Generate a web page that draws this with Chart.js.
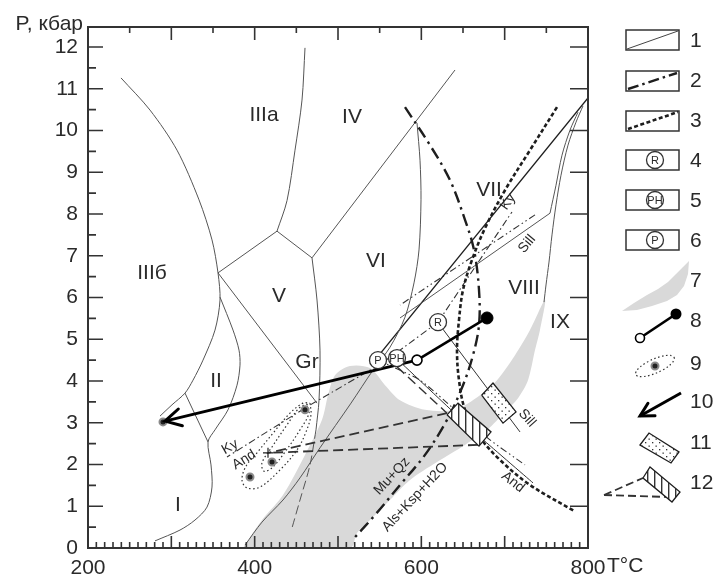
<!DOCTYPE html>
<html>
<head>
<meta charset="utf-8">
<script src="https://cdn.jsdelivr.net/npm/chart.js@4.4.1/dist/chart.umd.min.js"></script>
<style>
body { margin: 0; background: #fff; }
#wrap { width: 716px; height: 576px; }
</style>
</head>
<body>
<div id="wrap"><canvas id="c" width="716" height="576"></canvas></div>
<script>
// all points are [T °C, P kbar]
const xTicks = [200, 400, 600, 800];
const yTicks = [0, 1, 2, 3, 4, 5, 6, 7, 8, 9, 10, 11, 12];

const arcIII = [[239.6,11.26],[274.4,10.49],[306.8,9.53],[333.2,8.34],[348.8,7.38],[356,6.59],[358.4,5.94],[352.4,5.22],[338,4.50],[326,4.02],[316.4,3.71],[300.8,3.43],[286.4,3.16]];
const curveII = [[358.4,6.01],[374,5.22],[381.2,4.74],[382.4,4.38],[378.8,3.90],[368,3.31],[352.4,2.83],[344,2.54],[347.6,1.99],[348.8,1.46],[342.8,0.98],[328.4,0.67],[310.4,0.43],[280.4,0.17]];
const lineI = [[316.4,3.71],[344,2.54]];
const boundIV = [[460.4,11.98],[456.8,10.73],[448.4,9.53],[438.8,8.32],[426.8,7.59]];
const boundV1 = [[426.8,7.59],[356,6.59]];
const boundV2 = [[426.8,7.59],[468.8,6.95]];
const boundGr = [[356,6.59],[474.8,3.47]];
const boundIVVI = [[468.8,6.95],[640.4,11.45]];
const boundVVI = [[468.8,6.95],[474.8,5.94],[478.4,4.74],[477.2,3.54],[473.6,2.83]];
const boundVVIlow = [[473.6,2.83],[466.4,1.99],[454.4,1.15],[444.8,0.48]];
const boundVII = [[594.8,10.18],[598.4,9.29],[599.6,8.34],[597.2,7.14],[591.2,6.35],[580.4,5.53],[562.4,4.81],[542,4.26],[515.6,3.47],[478.4,2.40],[454.4,1.68],[434,1.15],[408.8,0.62],[388.4,0.07]];
const boundVIII = [[788,10.44],[778.4,10.01],[768.8,9.41],[761.6,8.69],[754.4,8.02]];
const boundIX = [[794,10.59],[785.6,10.20],[776,9.65],[767.6,8.93],[761.6,8.22],[756.8,7.50],[753.2,6.85],[749.6,6.30],[747.2,5.89]];
const sillLine = [[754.4,8.02],[574.4,5.51]];

const kySill = [[550.4,4.65],[800,10.78]];
const kySillR = [[620,5.41],[708.8,8.05]];
const kyAnd = [[620,5.41],[574.4,4.74],[546.8,4.36],[462.8,3.38],[366.8,2.18]];
const sillDots = [[736.4,7.98],[574.4,5.82]];
const andSillP = [[548,4.50],[598.4,4.02],[640.4,3.31],[682.4,2.59],[724.4,1.99]];
const andSillPH = [[574.4,4.46],[670.4,2.66],[734,1.56]];
const andSillR = [[624.8,5.27],[718.4,2.78]];
const dashPH = [[570.8,4.34],[630.8,3.23]];

const muCurve = [[580.4,10.56],[610.4,9.65],[634.4,8.81],[652.4,7.86],[663.2,7.14],[669.2,6.18],[669.2,5.34],[662,4.62],[650,3.90],[630.8,3.07],[604.4,2.23],[574.4,1.51],[544.4,0.79],[520.4,0.26]];
const dotCurve = [[762.8,10.56],[730.4,9.53],[700.4,8.57],[676.4,7.66],[660.8,6.90],[650,6.18],[645.2,5.46],[642.8,4.74],[645.2,4.02],[652.4,3.31],[668,2.71],[694.4,2.11],[730.4,1.51],[783.2,0.89]];

const greyZone = [[386,0],[408.8,0.67],[434,1.27],[460.4,2.23],[480.8,3.07],[488,3.66],[496.4,4.14],[514.4,4.36],[538.4,4.31],[556.4,3.90],[574.4,3.54],[604.4,3.31],[640.4,3.31],[670.4,3.66],[690.8,4.02],[712.4,4.62],[730.4,5.22],[748.4,5.94],[742.4,5.22],[736.4,4.74],[728,4.02],[716,3.59],[700.4,3.26],[678.8,2.83],[652.4,2.47],[618.8,2.06],[586.4,1.63],[562.4,1.15],[538.4,0.67],[522.8,0.36],[514.4,0],[386,0]];

const sillBox = [[672.4,3.66],[686,3.95],[713.6,3.26],[698,2.99],[672.4,3.66]];
const hatchBox = [[630.8,3.19],[644,3.47],[683.6,2.78],[669.2,2.44],[630.8,3.19]];
const dashUp = [[630.8,3.23],[416,2.28]];
const dashLow = [[668,2.47],[416,2.28]];

const ellipseA = [[466.4,3.47],[467.6,3.19],[461.6,2.78],[450.8,2.35],[430.4,1.87],[406.4,1.46],[390.8,1.44],[384.8,1.63],[389.6,1.96],[402.8,2.28],[422,2.75],[442.4,3.23],[458,3.47],[466.4,3.47]];
const ellipseB = [[462.8,3.45],[465.2,3.23],[454.4,2.83],[436.4,2.30],[420.8,1.92],[411.2,1.84],[408.8,2.04],[420.8,2.42],[438.8,2.95],[453.2,3.35],[462.8,3.45]];
const samples = [[394.4,1.70],[420.8,2.06],[460.4,3.31],[290,3.02]];
const crossAt = [[416,2.28]];

const arrowPath = [[594.8,4.50],[292.4,3.04]];
const ptPath = [[594.8,4.50],[678.8,5.51]];
const triplePts = [[620,5.41],[570.8,4.55],[548,4.50]];
const tripleNames = ['R', 'PH', 'P'];

const regionNames = ['IIIa','IIIб','II','I','IV','V','VI','VII','VIII','IX','Gr'];
const regionAt = [[411.2,10.37],[276.8,6.59],[353.6,4.00],[308,1.03],[516.8,10.32],[429.2,6.04],[545.6,6.87],[681.2,8.57],[723.2,6.23],[766.4,5.41],[462.8,4.46]];
const phaseNames = ['Ky','Sill','Ky','And','Sill','And','Mu+Qz','Als+Ksp+H2O'];
const phaseAt = [[704,8.29],[726.8,7.28],[370.4,2.42],[387.2,2.11],[726.8,3.11],[710,1.58],[564.8,1.72],[592.4,1.22]];
const phaseAngle = [-55,-50,-30,-32,48,38,-47,-47];

const FONT = '"Liberation Sans", Arial, sans-serif';
const canvas = document.getElementById('c');
const mainCtx = canvas.getContext('2d');

function makePattern(kind) {
  const c = document.createElement('canvas');
  c.width = 7; c.height = 7;
  const g = c.getContext('2d');
  g.fillStyle = '#fff';
  g.fillRect(0, 0, 7, 7);
  g.fillStyle = '#333';
  if (kind === 'dots') {
    g.fillRect(1, 1, 1.3, 1.3);
    g.fillRect(4.5, 4.5, 1.3, 1.3);
  } else {
    g.fillRect(3, 0, 1.4, 7);
  }
  return mainCtx.createPattern(c, 'repeat');
}
const dotsPat = makePattern('dots');
const hatchPat = makePattern('hatch');

function pts(arr) { return arr.map(p => ({ x: p[0], y: p[1] })); }

function curve(arr, color, width, dash, tension, order) {
  return {
    data: pts(arr), showLine: true, fill: false,
    borderColor: color, borderWidth: width, borderDash: dash || [],
    tension: tension || 0, pointRadius: 0, order: order || 50
  };
}
function shape(arr, bg, border, tension, order) {
  return {
    data: pts(arr), showLine: true, fill: 'shape',
    backgroundColor: bg, borderColor: border, borderWidth: 1.3,
    tension: tension || 0, pointRadius: 0, order: order
  };
}

const thin = '#555';
const dark = '#1e1e1e';
const ddash = [7, 3, 1.5, 3];

const datasets = [
  shape(greyZone, '#d9d9d9', 'rgba(0,0,0,0)', 0.3, 99),
  curve(arcIII, thin, 1, [], 0.3),
  curve(curveII, thin, 1, [], 0.3),
  curve(lineI, thin, 1),
  curve(boundIV, thin, 1, [], 0.3),
  curve(boundV1, thin, 1),
  curve(boundV2, thin, 1),
  curve(boundGr, thin, 1),
  curve(boundIVVI, thin, 1),
  curve(boundVVI, thin, 1, [], 0.3),
  curve(boundVVIlow, thin, 1, [9, 4], 0.3),
  curve(boundVII, thin, 1, [], 0.3),
  curve(boundVIII, thin, 1, [], 0.3),
  curve(boundIX, thin, 1, [], 0.3),
  curve(sillLine, thin, 1),
  curve(kySill, dark, 1.4),
  curve(kySillR, '#333', 1.1, ddash),
  curve(kyAnd, '#333', 1.1, ddash, 0.2),
  curve(sillDots, '#333', 1.1, [7, 3, 1.5, 3, 1.5, 3]),
  curve(andSillP, '#333', 1.1, [7, 3, 1.5, 3, 1.5, 3], 0.2),
  curve(andSillPH, '#333', 1, [], 0.1),
  curve(andSillR, '#333', 1),
  curve(dashPH, '#333', 1.4, [10, 5]),
  curve(muCurve, dark, 2.4, [12, 5, 2.5, 5], 0.35, 40),
  curve(dotCurve, dark, 2.6, [4, 2.5], 0.35, 40),
  curve(dashUp, '#333', 1.8, [10, 5], 0, 30),
  curve(dashLow, '#333', 1.8, [10, 5], 0, 30),
  curve(ellipseA, '#333', 1.2, [1.5, 2.5], 0.35, 30),
  curve(ellipseB, '#333', 1.2, [1.5, 2.5], 0.35, 30),
  shape(sillBox, dotsPat, dark, 0, 20),
  shape(hatchBox, hatchPat, dark, 0, 20),
  Object.assign(curve(arrowPath, '#000', 3, [], 0, 10), { role: 'arrow' }),
  curve(ptPath, '#000', 2.6, [], 0, 10),
  { data: pts([ptPath[0]]), pointRadius: 5, pointBackgroundColor: '#fff', pointBorderColor: '#000', pointBorderWidth: 1.6, order: 5 },
  { data: pts([ptPath[1]]), pointRadius: 6, pointBackgroundColor: '#000', pointBorderColor: '#000', pointBorderWidth: 1, order: 5 },
  { data: pts(samples), pointRadius: 3.5, pointBackgroundColor: '#222', pointBorderColor: '#8a8a8a', pointBorderWidth: 2, order: 6 },
  { data: pts(crossAt), pointStyle: 'cross', pointRadius: 5, pointBorderColor: '#222', pointBorderWidth: 1.2, order: 6 },
  { data: pts(triplePts), role: 'triple', pointRadius: 8.5, pointBackgroundColor: '#fff', pointBorderColor: '#333', pointBorderWidth: 1.3, order: 1 }
];

function text(ctx, s, x, y, size, ang, align) {
  ctx.save();
  ctx.translate(x, y);
  ctx.rotate((ang || 0) * Math.PI / 180);
  ctx.font = size + 'px ' + FONT;
  ctx.textAlign = align || 'center';
  ctx.textBaseline = 'middle';
  ctx.fillStyle = '#2a2a2a';
  ctx.fillText(s, 0, 0);
  ctx.restore();
}

function seg(ctx, x1, y1, x2, y2, w, dash, col) {
  ctx.save();
  ctx.strokeStyle = col || '#1e1e1e';
  ctx.lineWidth = w;
  ctx.setLineDash(dash || []);
  ctx.beginPath();
  ctx.moveTo(x1, y1);
  ctx.lineTo(x2, y2);
  ctx.stroke();
  ctx.restore();
}

function arrowHead(ctx, x0, y0, x1, y1, len, w) {
  const a = Math.atan2(y1 - y0, x1 - x0);
  ctx.save();
  ctx.strokeStyle = '#000';
  ctx.lineWidth = w;
  ctx.lineCap = 'round';
  ctx.beginPath();
  ctx.moveTo(x1 - len * Math.cos(a - 0.5), y1 - len * Math.sin(a - 0.5));
  ctx.lineTo(x1, y1);
  ctx.lineTo(x1 - len * Math.cos(a + 0.5), y1 - len * Math.sin(a + 0.5));
  ctx.stroke();
  ctx.restore();
}

function ringLabel(ctx, x, y, s) {
  ctx.save();
  ctx.fillStyle = '#fff';
  ctx.strokeStyle = '#333';
  ctx.lineWidth = 1.3;
  ctx.beginPath();
  ctx.arc(x, y, 8.5, 0, Math.PI * 2);
  ctx.fill();
  ctx.stroke();
  ctx.restore();
  text(ctx, s, x, y + 0.5, 11);
}

function poly(ctx, p, fill, dash) {
  ctx.save();
  ctx.beginPath();
  ctx.moveTo(p[0][0], p[0][1]);
  for (let i = 1; i < p.length; i++) ctx.lineTo(p[i][0], p[i][1]);
  ctx.closePath();
  ctx.fillStyle = fill;
  ctx.fill();
  if (dash !== null) {
    ctx.strokeStyle = '#1e1e1e';
    ctx.lineWidth = 1.3;
    ctx.stroke();
  }
  ctx.restore();
}

function drawLegend(ctx) {
  ctx.save();
  ctx.strokeStyle = '#333';
  ctx.lineWidth = 1.5;
  [30, 71, 111, 150, 190, 230].forEach(y => ctx.strokeRect(626, y, 53, 20));
  ctx.restore();
  seg(ctx, 627, 49, 678, 31, 1, [], '#444');
  seg(ctx, 628, 89, 677, 73, 2.4, [11, 4, 2.5, 4]);
  seg(ctx, 628, 129, 678, 112, 2.6, [4, 2.5]);
  ringLabel(ctx, 655, 160, 'R');
  ringLabel(ctx, 655, 200, 'PH');
  ringLabel(ctx, 655, 240, 'P');
  // 7 grey band
  poly(ctx, [[622,311],[634,303],[647,295],[658,289],[668,282],[676,274],[683,267],[689,261],[688,274],[684,286],[677,295],[667,301],[652,306],[637,310]], '#d9d9d9', null);
  // 8
  seg(ctx, 640, 338, 676, 314, 2.6, [], '#000');
  ctx.save();
  ctx.fillStyle = '#fff'; ctx.strokeStyle = '#000'; ctx.lineWidth = 1.6;
  ctx.beginPath(); ctx.arc(640, 338, 4.5, 0, Math.PI * 2); ctx.fill(); ctx.stroke();
  ctx.fillStyle = '#000';
  ctx.beginPath(); ctx.arc(676, 314, 5.5, 0, Math.PI * 2); ctx.fill();
  // 9
  ctx.setLineDash([1.5, 2.5]); ctx.lineWidth = 1.2; ctx.strokeStyle = '#333';
  ctx.beginPath(); ctx.ellipse(655, 366, 21, 7, -0.42, 0, Math.PI * 2); ctx.stroke();
  ctx.setLineDash([]);
  ctx.fillStyle = '#222'; ctx.strokeStyle = '#8a8a8a'; ctx.lineWidth = 2;
  ctx.beginPath(); ctx.arc(655, 366, 3.5, 0, Math.PI * 2); ctx.fill(); ctx.stroke();
  ctx.restore();
  // 10
  seg(ctx, 681, 393, 640, 416, 3, [], '#000');
  arrowHead(ctx, 681, 393, 640, 416, 15, 3);
  // 11
  poly(ctx, [[640,445],[649,433],[679,452],[671,463]], dotsPat);
  // 12
  seg(ctx, 604, 495, 643, 478, 1.8, [8, 4], '#333');
  seg(ctx, 604, 495, 668, 497, 1.8, [8, 4], '#333');
  poly(ctx, [[643,478],[650,467],[680,492],[672,502]], hatchPat);
  const ys = [41, 81, 121, 161, 201, 241, 281, 321, 364, 402, 443, 483];
  ys.forEach((y, i) => text(ctx, String(i + 1), 690, y, 21, 0, 'left'));
}

const decor = {
  id: 'decor',
  afterDatasetsDraw(chart) {
    const ctx = chart.ctx;
    const xs = chart.scales.x, ys = chart.scales.y, a = chart.chartArea;
    const px = t => xs.getPixelForValue(t), py = p => ys.getPixelForValue(p);

    // arrow head (type 10)
    const ai = chart.data.datasets.findIndex(d => d.role === 'arrow');
    const am = chart.getDatasetMeta(ai).data;
    arrowHead(ctx, am[0].x, am[0].y, am[1].x, am[1].y, 18, 3);

    // triple point letters
    const ti = chart.data.datasets.findIndex(d => d.role === 'triple');
    chart.getDatasetMeta(ti).data.forEach((el, i) => text(ctx, tripleNames[i], el.x, el.y + 0.5, 11));

    regionNames.forEach((s, i) => text(ctx, s, px(regionAt[i][0]), py(regionAt[i][1]), 21));
    phaseNames.forEach((s, i) => text(ctx, s, px(phaseAt[i][0]), py(phaseAt[i][1]), 14, phaseAngle[i]));

    // frame and inward ticks
    ctx.save();
    ctx.strokeStyle = '#333';
    ctx.lineWidth = 2;
    ctx.strokeRect(a.left, a.top, a.right - a.left, a.bottom - a.top);
    ctx.lineWidth = 1.6;
    ctx.beginPath();
    for (let v = 0.5; v <= 12; v += 0.5) {
      const y = py(v), len = Number.isInteger(v) ? 15 : 8;
      ctx.moveTo(a.left, y); ctx.lineTo(a.left + len, y);
    }
    for (let v = 1; v <= 12; v++) {
      const y = py(v);
      ctx.moveTo(a.right, y); ctx.lineTo(a.right - 18, y);
    }
    for (let t = 210; t < 800; t += 10) {
      const x = px(t), len = t % 100 === 0 ? 12 : 6;
      ctx.moveTo(x, a.bottom); ctx.lineTo(x, a.bottom - len);
    }
    for (let t = 250; t < 800; t += 50) {
      const x = px(t), len = t % 100 === 0 ? 13 : 6;
      ctx.moveTo(x, a.top); ctx.lineTo(x, a.top + len);
    }
    ctx.stroke();
    ctx.restore();

    text(ctx, 'P, кбар', a.left - 5, 24, 21, 0, 'right');
    text(ctx, 'T°C', px(800) + 19, 566, 21, 0, 'left');
    drawLegend(ctx);
  }
};

new Chart(canvas, {
  type: 'scatter',
  data: { datasets: datasets },
  options: {
    responsive: false,
    animation: false,
    events: [],
    layout: { padding: { left: 0, right: 128, top: 27, bottom: 0 } },
    plugins: { legend: { display: false }, tooltip: { enabled: false } },
    scales: {
      x: {
        type: 'linear', min: 200, max: 800,
        afterFit: s => { s.height = 28; },
        afterBuildTicks: s => { s.ticks = xTicks.map(v => ({ value: v })); },
        grid: { display: false, drawTicks: false },
        border: { display: false },
        ticks: {
          padding: 8, maxRotation: 0, autoSkip: false,
          color: '#2a2a2a', font: { size: 21, family: FONT }
        }
      },
      y: {
        type: 'linear', min: 0, max: 12.48,
        afterFit: s => { s.width = 88; },
        afterBuildTicks: s => { s.ticks = yTicks.map(v => ({ value: v })); },
        grid: { display: false, drawTicks: false },
        border: { display: false },
        ticks: {
          padding: 10, autoSkip: false,
          color: '#2a2a2a', font: { size: 21, family: FONT }
        }
      }
    }
  },
  plugins: [decor]
});
</script>
</body>
</html>
